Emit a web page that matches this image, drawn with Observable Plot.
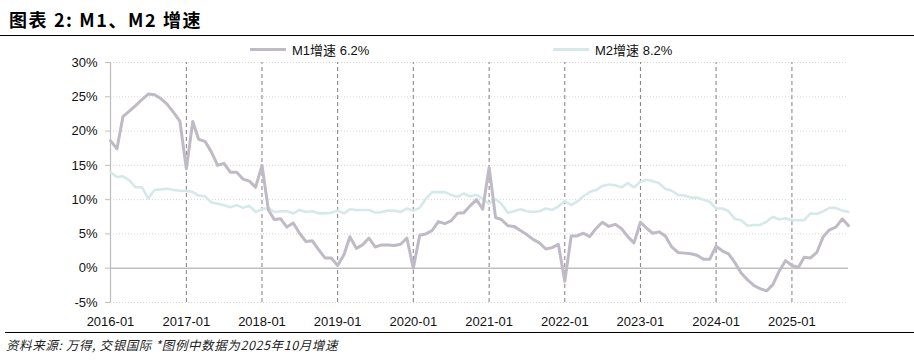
<!DOCTYPE html>
<html>
<head>
<meta charset="utf-8">
<script src="https://cdn.jsdelivr.net/npm/d3@7"></script>
<script src="https://cdn.jsdelivr.net/npm/@observablehq/plot@0.6"></script>
<style>
  html, body { margin: 0; padding: 0; background: #fff; }
  #wrap { position: relative; width: 914px; height: 363px; overflow: hidden; font-family: "Liberation Sans", "Noto Sans CJK SC", sans-serif; }
  #title { position: absolute; left: 9px; top: 6px; font-family: "Noto Sans CJK SC", sans-serif; font-weight: bold; font-size: 18px; color: #000; letter-spacing: 1.6px; }
  #topline { position: absolute; left: 0; top: 35px; width: 914px; height: 0; border-top: 1.6px solid #000; }
  #botline { position: absolute; left: 5px; top: 332px; width: 909px; height: 0; border-top: 1.6px solid #000; }
  #caption { position: absolute; left: 6px; top: 335px; font-family: "Noto Sans CJK SC", sans-serif; font-style: italic; font-size: 12.5px; color: #222; letter-spacing: 0.6px; }
  .leg { position: absolute; top: 40px; font-size: 13px; color: #111; display: flex; align-items: center; white-space: nowrap; font-family: "Liberation Sans", "Noto Sans CJK SC", sans-serif; }
  .leg .sw { display: inline-block; width: 36px; height: 3px; margin-right: 6px; }
  #chart { position: absolute; left: 0; top: 0; }
</style>
</head>
<body>
<div id="wrap">
  <div id="title">图表 2: M1、M2 增速</div>
  <div id="topline"></div>
  <div id="legend"></div>
  <div id="chart"></div>
  <div id="botline"></div>
  <div id="caption">资料来源: 万得, 交银国际 *图例中数据为2025年10月增速</div>
</div>
<script>
// Monthly series, 2016-01 .. 2025-10 (year-on-year growth, %)
const startYear = 2016;
const m1Values = [
  18.6, 17.4, 22.1, 22.9, 23.7, 24.6, 25.4, 25.3, 24.7, 23.9, 22.7, 21.4,
  14.5, 21.4, 18.8, 18.5, 17.0, 15.0, 15.3, 14.0, 14.0, 13.0, 12.7, 11.8,
  15.0, 8.5, 7.1, 7.2, 6.0, 6.6, 5.1, 3.9, 4.0, 2.7, 1.5, 1.5,
  0.4, 2.0, 4.6, 2.9, 3.4, 4.4, 3.1, 3.4, 3.4, 3.3, 3.5, 4.4,
  0.0, 4.8, 5.0, 5.5, 6.8, 6.5, 6.9, 8.0, 8.1, 9.1, 10.0, 8.6,
  14.7, 7.4, 7.1, 6.2, 6.1, 5.5, 4.9, 4.2, 3.7, 2.8, 3.0, 3.5,
  -1.9, 4.7, 4.7, 5.1, 4.6, 5.8, 6.7, 6.1, 6.4, 5.8, 4.6, 3.7,
  6.7, 5.8, 5.1, 5.3, 4.7, 3.1, 2.3, 2.2, 2.1, 1.9, 1.3, 1.3,
  3.2, 2.5, 2.1, 0.8, -0.7, -1.7, -2.5, -3.0, -3.3, -2.4, -0.4, 1.1,
  0.4, 0.1, 1.6, 1.5, 2.3, 4.6, 5.6, 6.0, 7.2, 6.2
];
const m2Values = [
  14.0, 13.3, 13.4, 12.8, 11.8, 11.8, 10.2, 11.4, 11.5, 11.6, 11.4, 11.3,
  11.3, 11.1, 10.6, 10.5, 9.6, 9.4, 9.2, 8.9, 9.2, 8.8, 9.1, 8.2,
  8.6, 8.8, 8.2, 8.3, 8.3, 8.0, 8.5, 8.2, 8.3, 8.0, 8.0, 8.1,
  8.4, 8.0, 8.6, 8.5, 8.5, 8.5, 8.1, 8.2, 8.4, 8.4, 8.2, 8.7,
  8.4, 8.8, 10.1, 11.1, 11.1, 11.1, 10.7, 10.4, 10.9, 10.5, 10.7, 10.1,
  9.4, 10.1, 9.4, 8.1, 8.3, 8.6, 8.3, 8.2, 8.3, 8.7, 8.5, 9.0,
  9.8, 9.2, 9.7, 10.5, 11.1, 11.4, 12.0, 12.2, 12.1, 11.8, 12.4, 11.8,
  12.6, 12.9, 12.7, 12.4, 11.6, 11.3, 10.7, 10.6, 10.3, 10.3, 10.0, 9.7,
  8.7, 8.7, 8.3, 7.2, 7.0, 6.2, 6.3, 6.3, 6.8, 7.5, 7.1, 7.3,
  7.0, 7.0, 7.0, 8.0, 7.9, 8.3, 8.8, 8.8, 8.4, 8.2
];
const seriesNames = ["M1增速 6.2%", "M2增速 8.2%"];
const seriesColors = ["#bfbac6", "#d6e9ea"];
const yTicks = [-5, 0, 5, 10, 15, 20, 25, 30];
const xTickYears = [2016, 2017, 2018, 2019, 2020, 2021, 2022, 2023, 2024, 2025];

const dateOf = i => new Date(Date.UTC(startYear, i, 1));
const m1 = m1Values.map((v, i) => ({date: dateOf(i), value: v}));
const m2 = m2Values.map((v, i) => ({date: dateOf(i), value: v}));
const xTicks = xTickYears.map(y => new Date(Date.UTC(y, 0, 1)));
const gridY = yTicks.filter(d => d !== 0);

// legend
const legend = document.getElementById("legend");
[[250, 0], [553, 1]].forEach(([left, k]) => {
  const el = document.createElement("div");
  el.className = "leg";
  el.style.left = left + "px";
  el.innerHTML = `<span class="sw" style="background:${seriesColors[k]}"></span><span>${seriesNames[k]}</span>`;
  legend.appendChild(el);
});

const chart = Plot.plot({
  width: 914,
  height: 363,
  marginTop: 62,
  marginBottom: 61,
  marginLeft: 110,
  marginRight: 66,
  style: {fontFamily: "Liberation Sans, sans-serif", fontSize: "13px", color: "#111", background: "transparent"},
  x: {type: "utc", domain: [dateOf(0), dateOf(m1Values.length - 1)]},
  y: {domain: [-5, 30]},
  marks: [
    Plot.ruleY(gridY, {stroke: "#d4d4d4", strokeDasharray: "1,2", strokeWidth: 1}),
    Plot.ruleX(xTicks.slice(1), {y1: -5, y2: 30, stroke: "#808080", strokeDasharray: "4,3", strokeWidth: 1}),
    Plot.ruleY([0], {stroke: "#bfbfbf", strokeWidth: 1.6}),
    Plot.ruleX([xTicks[0]], {y1: -5, y2: 30, stroke: "#bfbfbf", strokeWidth: 1.3}),
    Plot.line(m2, {x: "date", y: "value", stroke: seriesColors[1], strokeWidth: 2.6}),
    Plot.line(m1, {x: "date", y: "value", stroke: seriesColors[0], strokeWidth: 3}),
    Plot.axisY({ticks: yTicks, tickFormat: d => d + "%", tickSize: 5, tickPadding: 8, stroke: "#bfbfbf", fill: "#111", label: null, fontSize: 13}),
    Plot.axisX({ticks: xTicks, tickFormat: d3.utcFormat("%Y-%m"), tickSize: 0, tickPadding: 14, fill: "#111", label: null, fontSize: 13})
  ]
});
document.getElementById("chart").appendChild(chart);
</script>
</body>
</html>
